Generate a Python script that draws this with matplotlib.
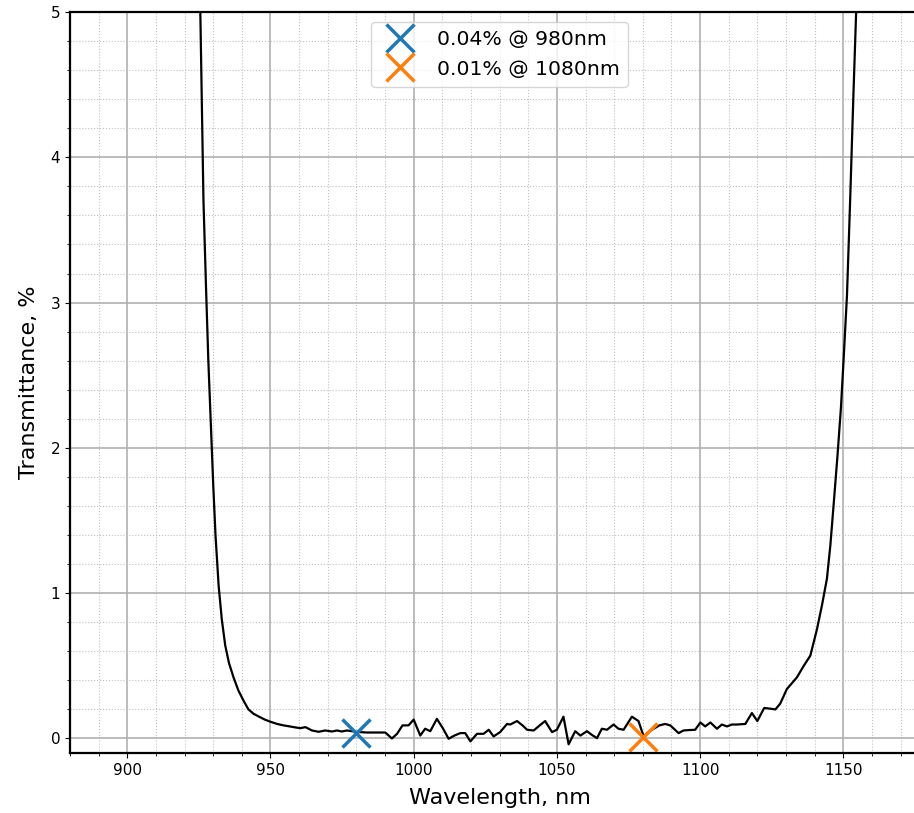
import matplotlib.pyplot as plt
from matplotlib.ticker import MultipleLocator

# Spectrum (nm, %)
wavelength = [924.5, 925.5, 926.6, 927.5, 928.3, 929.0, 930.0, 930.8, 931.9, 933.0,
              934.2, 935.5, 937.1, 938.8, 940.6, 942.3, 944.1, 946.0, 948.0, 950.0,
              952.3, 954.6, 957.0, 959.0, 960.4, 962.2, 964.5, 966.8, 969.1, 971.5,
              973.2, 974.9, 976.7, 978.5, 980.2, 983.7, 987.0, 990.1, 992.4, 994.2,
              996.1, 998.2, 1000.0, 1002.3, 1004.0, 1005.8, 1008.1, 1010.2, 1012.2, 1014.2,
              1016.3, 1018.0, 1019.8, 1022.1, 1024.4, 1026.2, 1027.9, 1030.2, 1032.6, 1033.7,
              1036.1, 1038.0, 1039.6, 1041.9, 1044.0, 1045.9, 1048.3, 1050.0, 1052.3, 1054.1,
              1056.4, 1058.2, 1060.5, 1062.2, 1064.0, 1065.7, 1067.5, 1069.8, 1071.5, 1073.3,
              1076.2, 1078.5, 1080.3, 1082.0, 1083.8, 1085.8, 1087.8, 1089.6, 1092.5, 1094.2,
              1096.3, 1098.3, 1100.1, 1101.8, 1103.6, 1105.9, 1107.6, 1109.4, 1111.1, 1112.9,
              1115.8, 1118.1, 1120.0, 1122.4, 1124.5, 1126.3, 1128.0, 1130.3, 1133.8, 1136.2,
              1138.5, 1140.8, 1142.6, 1144.3, 1145.5, 1146.6, 1148.0, 1149.2, 1150.1, 1151.3,
              1152.4, 1153.5, 1154.5, 1155.5]
transmittance = [6.3, 5.0, 3.7, 3.1, 2.6, 2.25, 1.75, 1.4, 1.05, 0.82,
                 0.64, 0.52, 0.42, 0.33, 0.26, 0.2, 0.17, 0.15, 0.13, 0.115,
                 0.10, 0.09, 0.082, 0.075, 0.071, 0.078, 0.055, 0.046, 0.055, 0.048,
                 0.055, 0.048, 0.055, 0.05, 0.045, 0.041, 0.041, 0.041, 0.0, 0.032,
                 0.09, 0.09, 0.13, 0.02, 0.067, 0.05, 0.135, 0.07, -0.002, 0.02,
                 0.037, 0.037, -0.02, 0.032, 0.032, 0.06, 0.014, 0.044, 0.10, 0.096,
                 0.12, 0.09, 0.06, 0.055, 0.09, 0.12, 0.044, 0.06, 0.15, -0.04,
                 0.05, 0.02, 0.05, 0.025, 0.002, 0.067, 0.06, 0.096, 0.067, 0.06,
                 0.15, 0.12, 0.014, 0.045, 0.067, 0.09, 0.10, 0.09, 0.037, 0.055,
                 0.058, 0.06, 0.11, 0.083, 0.11, 0.067, 0.096, 0.083, 0.096, 0.096,
                 0.10, 0.175, 0.12, 0.21, 0.205, 0.20, 0.24, 0.34, 0.42, 0.5,
                 0.57, 0.75, 0.92, 1.1, 1.33, 1.6, 1.95, 2.28, 2.6, 3.05,
                 3.7, 4.4, 5.0, 5.8]

# Marked points
mark_wl = [980, 1080]
mark_t = [0.04, 0.01]
mark_colors = ["tab:blue", "tab:orange"]

fig = plt.figure(figsize=(9.14, 8.13), dpi=100)
ax = fig.add_axes([0.0766, 0.0738, 0.94, 0.9114])

ax.plot(wavelength, transmittance, color="black", lw=1.6)
for wl, t, c in zip(mark_wl, mark_t, mark_colors):
    ax.plot(wl, t, "x", color=c, ms=20, mew=2.5, linestyle="none",
            label=f"{t:.2f}% @ {wl}nm")

ax.set_xlim(880, 1180)
ax.set_ylim(-0.1, 5)
ax.xaxis.set_major_locator(MultipleLocator(50))
ax.xaxis.set_minor_locator(MultipleLocator(10))
ax.yaxis.set_major_locator(MultipleLocator(1))
ax.yaxis.set_minor_locator(MultipleLocator(0.2))
ax.grid(which="major", color="#b0b0b0", lw=1.2)
ax.grid(which="minor", color="#c0c0c0", lw=0.8, linestyle=":")
ax.tick_params(labelsize=11)

for s in ax.spines.values():
    s.set_linewidth(1.6)

ax.set_xlabel("Wavelength, nm", fontsize=16, labelpad=7.5)
ax.set_ylabel("Transmittance, %", fontsize=16, labelpad=8)
ax.legend(loc="upper center", fontsize=14.7)

fig.savefig("out.png", dpi=100)
